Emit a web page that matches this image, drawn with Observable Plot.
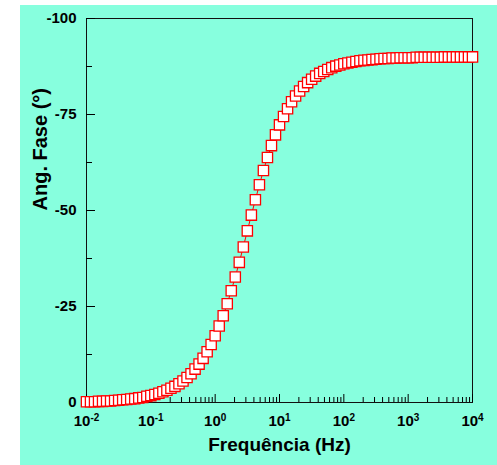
<!DOCTYPE html>
<html><head><meta charset="utf-8">
<script src="https://cdn.jsdelivr.net/npm/d3@7"></script>
<script src="https://cdn.jsdelivr.net/npm/@observablehq/plot@0.6"></script>
<style>
html,body{margin:0;padding:0;background:#fff;}
#chart{position:absolute;left:20px;top:5px;}
</style></head><body><div id="chart"></div>
<script>
const freqHz = [
0.01,0.01155,0.01334,0.0154,0.01778,0.02054,0.02371,0.02738,0.03162,0.03652,0.04217,0.0487,0.05623,0.06494,0.07499,0.0866,
0.1,0.1155,0.1334,0.154,0.1778,0.2054,0.2371,0.2738,0.3162,0.3652,0.4217,0.487,0.5623,0.6494,0.7499,0.866,
1,1.155,1.334,1.54,1.778,2.054,2.371,2.738,3.162,3.652,4.217,4.87,5.623,6.494,7.499,8.66,
10,11.55,13.34,15.4,17.78,20.54,23.71,27.38,31.62,36.52,42.17,48.7,56.23,64.94,74.99,86.6,
100,115.5,133.4,154,177.8,205.4,237.1,273.8,316.2,365.2,421.7,487,562.3,649.4,749.9,866,
1000,1155,1334,1540,1778,2054,2371,2738,3162,3652,4217,4870,5623,6494,7499,8660,10000];
const phaseDeg = [
-0.2,-0.2,-0.2,-0.3,-0.3,-0.4,-0.4,-0.5,-0.6,-0.7,-0.8,-0.9,-1.0,-1.2,-1.3,-1.6,
-1.8,-2.1,-2.4,-2.8,-3.2,-3.7,-4.2,-4.9,-5.6,-6.5,-7.5,-8.7,-10.0,-11.5,-13.2,-15.1,
-17.4,-19.9,-22.6,-25.7,-29.1,-32.7,-36.5,-40.5,-44.7,-48.8,-52.8,-56.7,-60.4,-63.8,-66.9,-69.7,
-72.3,-74.5,-76.5,-78.3,-79.8,-81.1,-82.3,-83.3,-84.2,-85.0,-85.7,-86.2,-86.7,-87.2,-87.6,-87.9,
-88.2,-88.4,-88.6,-88.8,-89.0,-89.1,-89.2,-89.3,-89.4,-89.5,-89.6,-89.6,-89.7,-89.7,-89.8,-89.8,
-89.8,-89.8,-89.9,-89.9,-89.9,-89.9,-89.9,-89.9,-89.9,-90.0,-90.0,-90.0,-90.0,-90.0,-90.0,-90.0,-90.0];
const yTicks = [0, -25, -50, -75, -100];
const yMinorTicks = [-12.5, -37.5, -62.5, -87.5];
const xTicks = [0.01, 0.1, 1, 10, 100, 1000, 10000];
const xTickLabels = ["10^-2", "10^-1", "10^0", "10^1", "10^2", "10^3", "10^4"];
const xMinorTicks = [
0.02,0.03,0.04,0.05,0.06,0.07,0.08,0.09,
0.2,0.3,0.4,0.5,0.6,0.7,0.8,0.9,
2,3,4,5,6,7,8,9,
20,30,40,50,60,70,80,90,
200,300,400,500,600,700,800,900,
2000,3000,4000,5000,6000,7000,8000,9000];
const xTitle = "Frequência (Hz)";
const yTitle = "Ang. Fase (°)";

const data = freqHz.map((f, i) => ({f, p: phaseDeg[i]}));

const chart = Plot.plot({
  width: 477, height: 460,
  marginLeft: 66, marginTop: 13, marginRight: 25, marginBottom: 63,
  style: {background: "#87ffde", fontFamily: "'Liberation Sans', Arial, sans-serif", fontWeight: "bold", color: "#000"},
  x: {type: "log", domain: [0.01, 10000]},
  y: {domain: [0, -100]},
  marks: [
    Plot.frame({stroke: "#111"}),
    Plot.axisY({ticks: yTicks, tickSize: 9, dx: 9, tickPadding: 10, tickFormat: d => String(d), fontSize: 15, label: null}),
    Plot.axisY({ticks: yMinorTicks, tickSize: 6, dx: 6, tickFormat: () => "", label: null}),
    Plot.axisX({ticks: xTicks, tickSize: 8, dy: -8, tickPadding: 13, tickFormat: d => xTickLabels[xTicks.indexOf(d)], fontSize: 15, label: null}),
    Plot.axisX({ticks: xMinorTicks, tickSize: 5, dy: -5, tickFormat: () => "", label: null}),
    Plot.line(data, {x: "f", y: "p", stroke: "red", strokeWidth: 1}),
    Plot.dot(data, {x: "f", y: "p", symbol: "square", r: 5.8, fill: "white", stroke: "red", strokeWidth: 1.3}),
    Plot.text([xTitle], {frameAnchor: "bottom", dy: 48, fontSize: 19, fontWeight: "bold"}),
    Plot.text([yTitle], {frameAnchor: "left", dx: -46, rotate: -90, fontSize: 20, fontWeight: "bold"})
  ]
});
document.getElementById("chart").appendChild(chart);

// superscript exponents on x tick labels
d3.select(chart).selectAll("text").each(function() {
  const t = this.textContent;
  const m = /^10\^(-?\d+)$/.exec(t);
  if (m) {
    const el = d3.select(this);
    el.text(null);
    el.append("tspan").text("10");
    el.append("tspan").attr("dy", "-0.5em").attr("font-size", "10px").text(m[1]);
  }
});
</script></body></html>
